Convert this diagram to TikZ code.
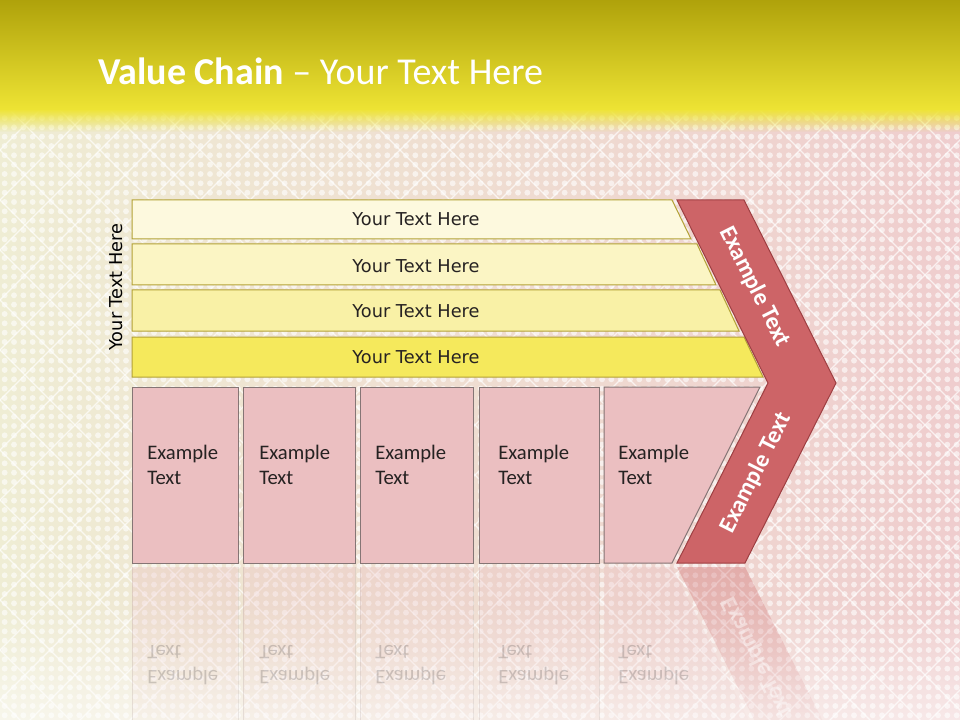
\documentclass[tikz,border=0pt]{standalone}
\usepackage{fontspec}
\setmainfont{Carlito}
\newfontfamily\dejavu{DejaVu Sans}
\usetikzlibrary{fadings,patterns}
\definecolor{bandTop}{HTML}{AFA20B}
\definecolor{bandBot}{HTML}{EEE434}
\definecolor{bgL}{HTML}{EFEDD4}
\definecolor{bgM}{HTML}{F3E2D9}
\definecolor{bgR}{HTML}{EFCDCE}
\definecolor{barA}{HTML}{FDF9DE}
\definecolor{barB}{HTML}{FBF5C4}
\definecolor{barC}{HTML}{F9F1A6}
\definecolor{barD}{HTML}{F5E95C}
\definecolor{barLine}{HTML}{B3A236}
\definecolor{chevFill}{HTML}{CD6467}
\definecolor{chevLine}{HTML}{9E3F42}
\definecolor{boxFill}{HTML}{EBBFC1}
\definecolor{boxLine}{HTML}{857575}
\definecolor{txtDark}{HTML}{262222}
\pgfdeclarepatternformonly{bgdots}{\pgfqpoint{-1pt}{-1pt}}{\pgfqpoint{8pt}{8pt}}{\pgfqpoint{7pt}{7pt}}{\pgfpathcircle{\pgfqpoint{3.5pt}{3.5pt}}{2.2pt}\pgfusepath{fill}}
\begin{document}
\begin{tikzpicture}[x=0.75pt,y=-0.75pt,
  barshape/.style={draw=barLine, line width=0.75pt},
  bartext/.style={font=\dejavu\fontsize{13.3}{16}\selectfont, text=txtDark, inner sep=0pt},
  chevshape/.style={draw=chevLine, line width=0.75pt, fill=chevFill},
  chevtext/.style={font=\bfseries\fontsize{18}{22}\selectfont, text=white, inner sep=0pt},
  pinkbox/.style={draw=boxLine, line width=0.75pt, fill=boxFill},
  boxtext/.style={font=\fontsize{15.5}{19}\selectfont, text=txtDark, align=left, anchor=north west, inner sep=0pt},
  reflshape/.style={fill opacity=0.35, path fading=south},
  refltext/.style={font=\fontsize{15.5}{19}\selectfont, text=txtDark, align=left, inner sep=0pt, opacity=0.2}
]
\useasboundingbox (0,0) rectangle (960,720);
% ---------- background ----------
\begin{scope}
\clip (0,0) rectangle (960,720);
\shade[left color=bgL, middle color=bgM, right color=bgR] (0,0) rectangle (960,720);
\fill[pattern=bgdots, pattern color=white, opacity=0.6] (0,100) rectangle (960,720);
\foreach \c in {-700,-650,...,1000} {
  \draw[white, opacity=0.7, line width=0.9pt] (\c,100) -- ++(720,720);
}
\foreach \c in {0,50,...,1700} {
  \draw[white, opacity=0.7, line width=0.9pt] (\c,100) -- ++(-720,720);
}
\fill[white, opacity=0.55, path fading=north] (0,600) rectangle (960,720);
% top band
\shade[top color=bandTop, bottom color=bandBot] (0,0) rectangle (960,110);
\fill[bandBot, path fading=south] (0,109) rectangle (960,132);
\end{scope}
% ---------- title ----------
\node[anchor=base west, inner sep=0pt, text=white, font=\fontsize{28.5}{34}\selectfont] (title) at (98,85) {\textbf{Value Chain} – Your Text Here};
% ---------- left label ----------
\node[bartext, text=black, rotate=90] (sidelabel) at (116,287) {Your Text Here};
% ---------- yellow bars ----------
\draw[barshape, fill=barA] (132,200) -- (672,200) -- (691,239) -- (132,239) -- cycle;
\draw[barshape, fill=barB] (132,244) -- (697,244) -- (716,285) -- (132,285) -- cycle;
\draw[barshape, fill=barC] (132,290) -- (720,290) -- (739,331) -- (132,331) -- cycle;
\draw[barshape, fill=barD] (132,337) -- (744,337) -- (763,377) -- (132,377) -- cycle;
\node[bartext] (bar1) at (416,219) {Your Text Here};
\node[bartext] (bar2) at (416,266) {Your Text Here};
\node[bartext] (bar3) at (416,311) {Your Text Here};
\node[bartext] (bar4) at (416,357) {Your Text Here};
% ---------- reflections ----------
\begin{scope}
\clip (0,566) rectangle (960,720);
\foreach \l/\r in {132/238, 243/355, 360/473, 479/599} {
  \fill[boxFill, reflshape] (\l,567) rectangle (\r,743);
  \draw[boxLine, opacity=0.15] (\l,567) -- (\l,720) (\r,567) -- (\r,720);
}
\fill[boxFill, reflshape] (604,567) -- (672,567) -- (760,743) -- (604,743) -- cycle;
\fill[chevFill, reflshape] (677,567) -- (745,567) -- (836,747) -- (768,747) -- cycle;
\node[refltext, yscale=-1, anchor=north west] (r1) at (147,685) {Example\\Text};
\node[refltext, yscale=-1, anchor=north west] (r2) at (259,685) {Example\\Text};
\node[refltext, yscale=-1, anchor=north west] (r3) at (375,685) {Example\\Text};
\node[refltext, yscale=-1, anchor=north west] (r4) at (498,685) {Example\\Text};
\node[refltext, yscale=-1, anchor=north west] (r5) at (618,685) {Example\\Text};
\node[chevtext, opacity=0.45, rotate=-63.3, yscale=-1] (r6) at (757,657) {Example Text};
\end{scope}
% ---------- pink boxes ----------
\draw[pinkbox] (132,387) rectangle (238,563);
\draw[pinkbox] (243,387) rectangle (355,563);
\draw[pinkbox] (360,387) rectangle (473,563);
\draw[pinkbox] (479,387) rectangle (599,563);
\draw[pinkbox] (604,387) -- (760,387) -- (672,563) -- (604,563) -- cycle;
\node[boxtext] (b1) at (147,445) {Example\\Text};
\node[boxtext] (b2) at (259,445) {Example\\Text};
\node[boxtext] (b3) at (375,445) {Example\\Text};
\node[boxtext] (b4) at (498,445) {Example\\Text};
\node[boxtext] (b5) at (618,445) {Example\\Text};
% ---------- chevron ----------
\draw[chevshape] (677,200) -- (744,200) -- (836,383) -- (745,563) -- (677,563) -- (768,383) -- cycle;
\node[chevtext, rotate=-63.3] (ch1) at (755,287) {Example Text};
\node[chevtext, rotate=63.3] (ch2) at (756,473) {Example Text};
\end{tikzpicture}
\end{document}
